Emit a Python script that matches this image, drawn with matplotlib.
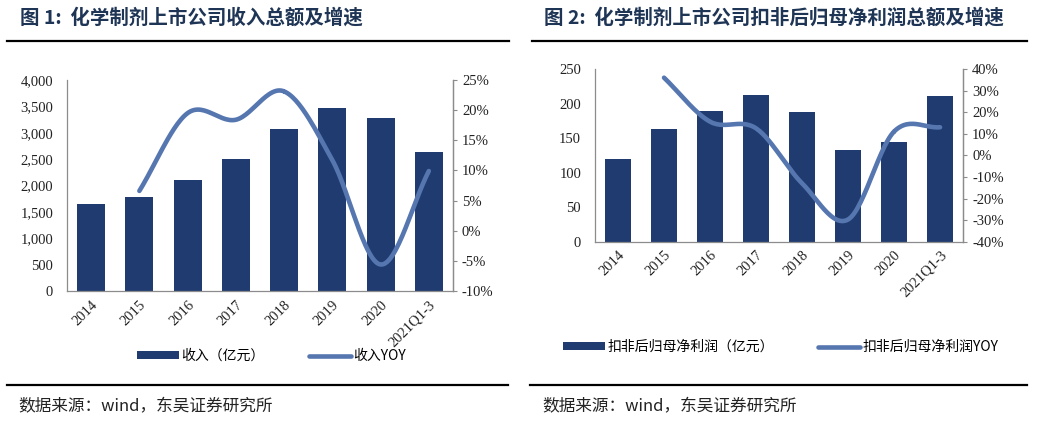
"""Two side-by-side bar + smoothed YOY line charts for the chemical drug section."""

import numpy as np
import matplotlib

matplotlib.use("Agg")
import matplotlib.pyplot as plt
from matplotlib.lines import Line2D
from matplotlib.ticker import FuncFormatter

plt.rcParams["font.family"] = ["Noto Sans CJK SC", "DejaVu Sans"]

years = ["2014", "2015", "2016", "2017", "2018", "2019", "2020", "2021Q1-3"]

revenue = [1658, 1778, 2108, 2494, 3063, 3462, 3272, 2627]
revenue_yoy = [None, 6.6, 19.5, 18.4, 23.1, 11.7, -5.6, 9.9]

profit = [120, 163, 190, 212, 188, 133, 145, 211]
profit_yoy = [None, 36.1, 15.7, 12.6, -12.9, -29.7, 11.1, 13.1]

BAR = "#1F3B70"
LINE = "#5676B0"
SPINE = "#8C8C8C"
TITLE = "#1F3556"
SERIF = ["Liberation Serif", "DejaVu Serif"]


def smooth(xs, ys, steps=30):
    """Catmull-Rom curve through the data points, like Excel's smoothed line."""
    pts = np.column_stack([xs, ys]).astype(float)
    padded = np.vstack([pts[0] * 2 - pts[1], pts, pts[-1] * 2 - pts[-2]])
    out = []
    t = np.linspace(0, 1, steps)[:, None]
    for i in range(1, len(padded) - 2):
        p0, p1, p2, p3 = padded[i - 1], padded[i], padded[i + 1], padded[i + 2]
        seg = 0.5 * (
            2 * p1
            + (-p0 + p2) * t
            + (2 * p0 - 5 * p1 + 4 * p2 - p3) * t**2
            + (-p0 + 3 * p1 - 3 * p2 + p3) * t**3
        )
        out.append(seg)
    curve = np.vstack(out)
    return curve[:, 0], curve[:, 1]


def draw_panel(fig, rect, bars, yoy, ylim, ystep, y2lim, y2step, bar_label, line_label,
               legend_xy, bar_width):
    ax = fig.add_axes(rect)
    x = np.arange(len(years))
    ax.bar(x, bars, width=bar_width, color=BAR, label=bar_label, zorder=2)
    ax.set_xlim(-0.5, len(years) - 0.5)
    ax.set_ylim(*ylim)
    ax.set_yticks(np.arange(ylim[0], ylim[1] + 1, ystep))
    ax.yaxis.set_major_formatter(FuncFormatter(lambda v, _: f"{v:,.0f}"))
    ax.set_xticks(x, years, rotation=45, ha="right", rotation_mode="anchor")

    ax2 = ax.twinx()
    idx = [i for i, v in enumerate(yoy) if v is not None]
    sx, sy = smooth(idx, [yoy[i] for i in idx])
    ax2.plot(sx, sy, color=LINE, lw=3.3, solid_capstyle="round", label=line_label, zorder=3)
    ax2.set_ylim(*y2lim)
    ax2.set_yticks(np.arange(y2lim[0], y2lim[1] + 1, y2step))
    ax2.yaxis.set_major_formatter(FuncFormatter(lambda v, _: f"{v:.0f}%"))

    for a in (ax, ax2):
        a.spines["top"].set_visible(False)
        for side in ("left", "right", "bottom"):
            a.spines[side].set_color(SPINE)
            a.spines[side].set_linewidth(0.9)
        a.tick_params(colors=SPINE, length=3, width=0.8, labelcolor="#222222")
        for lab in a.get_xticklabels() + a.get_yticklabels():
            lab.set_fontfamily(SERIF)
            lab.set_fontsize(10.5)
    ax.tick_params(axis="y", length=0, pad=10)
    ax.tick_params(axis="x", length=0, pad=5)
    ax2.spines["left"].set_visible(False)
    ax2.spines["bottom"].set_visible(False)

    handles = ax.get_legend_handles_labels()[0] + ax2.get_legend_handles_labels()[0]
    labels = [bar_label, line_label]
    fig.legend(handles, labels, loc="center", bbox_to_anchor=legend_xy, ncol=2,
               frameon=False, fontsize=10, handlelength=3.0, handleheight=0.45,
               columnspacing=3.2, handletextpad=0.2)
    return ax


fig = plt.figure(figsize=(10.37, 4.23), dpi=100)

draw_panel(fig, [0.0646, 0.312, 0.3722, 0.499], revenue, revenue_yoy,
           (0, 4000), 500, (-10, 25), 5, "收入（亿元）", "收入YOY",
           (0.262, 0.158), 0.58)
draw_panel(fig, [0.5738, 0.4286, 0.3549, 0.4076], profit, profit_yoy,
           (0, 250), 50, (-40, 40), 10, "扣非后归母净利润（亿元）", "扣非后归母净利润YOY",
           (0.753, 0.180), 0.565)

fig.text(0.019, 0.958, "图 1:  化学制剂上市公司收入总额及增速", fontsize=14,
         fontweight="bold", color=TITLE, va="center")
fig.text(0.525, 0.958, "图 2:  化学制剂上市公司扣非后归母净利润总额及增速", fontsize=14,
         fontweight="bold", color=TITLE, va="center")

for x0, x1 in ((0.0068, 0.491), (0.513, 0.990)):
    fig.add_artist(Line2D([x0, x1], [0.904, 0.904], color="black", lw=1.6))
for x0, x1 in ((0.0068, 0.490), (0.511, 0.990)):
    fig.add_artist(Line2D([x0, x1], [0.09, 0.09], color="black", lw=1.6))

fig.text(0.018, 0.038, "数据来源：wind，东吴证券研究所", fontsize=12, color="#222222", va="center")
fig.text(0.523, 0.038, "数据来源：wind，东吴证券研究所", fontsize=12, color="#222222", va="center")

fig.savefig("out.png", dpi=100, facecolor="white")
